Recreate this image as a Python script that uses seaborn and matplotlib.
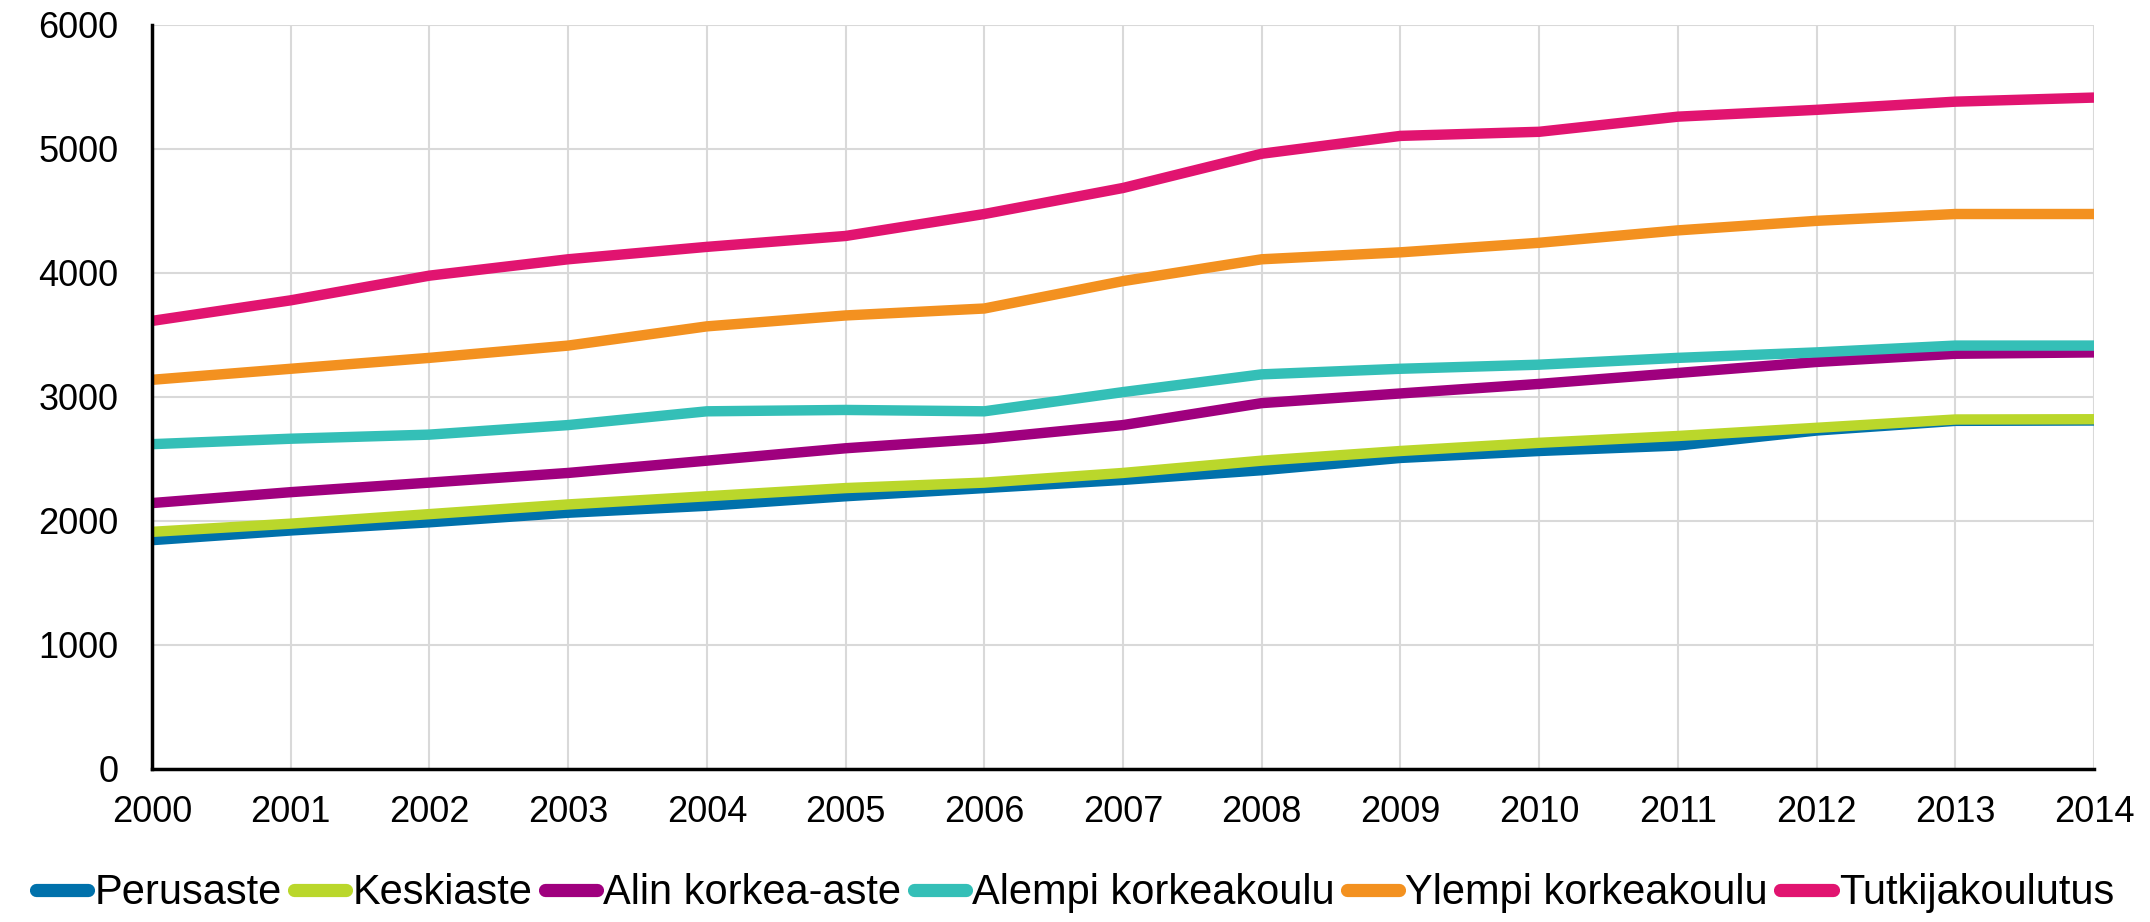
import matplotlib
matplotlib.use("Agg")
import matplotlib.pyplot as plt
import seaborn as sns
import pandas as pd

years = list(range(2000, 2015))
series_names = ["Perusaste", "Keskiaste", "Alin korkea-aste",
                "Alempi korkeakoulu", "Ylempi korkeakoulu", "Tutkijakoulutus"]
perusaste = [1845, 1923, 1989, 2066, 2122, 2199, 2265, 2331, 2409, 2508, 2564, 2608, 2729, 2807, 2810]
keskiaste = [1912, 1978, 2055, 2133, 2199, 2265, 2309, 2387, 2486, 2564, 2630, 2685, 2751, 2818, 2820]
alin = [2144, 2232, 2309, 2387, 2486, 2586, 2663, 2773, 2950, 3028, 3105, 3193, 3282, 3348, 3359]
alempi = [2619, 2663, 2696, 2773, 2884, 2895, 2884, 3039, 3182, 3227, 3260, 3315, 3359, 3414, 3414]
ylempi = [3138, 3227, 3315, 3414, 3569, 3657, 3713, 3934, 4110, 4166, 4243, 4343, 4420, 4475, 4475]
tutkija = [3613, 3779, 3978, 4110, 4210, 4298, 4475, 4685, 4961, 5105, 5138, 5260, 5315, 5381, 5414]
colors = ["#0071AB", "#BAD72B", "#9F007E", "#34BFB7", "#F39120", "#E11470"]

all_vals = [perusaste, keskiaste, alin, alempi, ylempi, tutkija]
rows = []
for name, vals in zip(series_names, all_vals):
    for y, v in zip(years, vals):
        rows.append({"year": y, "value": v, "series": name})
df = pd.DataFrame(rows)

sns.set_style("white")
plt.rcParams["font.family"] = ["Liberation Sans", "DejaVu Sans"]
plt.rcParams["text.color"] = "black"
plt.rcParams["xtick.color"] = "black"
plt.rcParams["ytick.color"] = "black"

fig = plt.figure(figsize=(21.5, 9.22), dpi=100)
ax = fig.add_axes([0.0707, 0.166, 0.974 - 0.0707, 0.973 - 0.166])

sns.lineplot(data=df, x="year", y="value", hue="series", hue_order=series_names,
             palette=colors, linewidth=7.5, ax=ax, legend=True, sort=False)
for ln in ax.lines:
    ln.set_solid_capstyle("butt")
    ln.set_solid_joinstyle("round")

ax.set_xlim(2000, 2014)
ax.set_ylim(0, 6000)
ax.set_xticks(years)
ax.set_xticklabels([str(y) for y in years])
ax.set_yticks(range(0, 6001, 1000))
ax.set_xlabel("")
ax.set_ylabel("")
ax.grid(True, color="#d9d9d9", linewidth=1.5)
ax.set_axisbelow(True)
for s in ["top", "right"]:
    ax.spines[s].set_visible(False)
for s in ["left", "bottom"]:
    ax.spines[s].set_color("black")
    ax.spines[s].set_linewidth(2.5)
    ax.spines[s].set_zorder(5)
ax.tick_params(axis="x", direction="out", length=10, width=2.5, color="black",
               labelcolor="black", labelsize=26, pad=9)
ax.tick_params(axis="y", length=0, labelsize=26, labelcolor="black", pad=24)

handles, labels = ax.get_legend_handles_labels()
ax.get_legend().remove()
for h in handles:
    h.set_linewidth(9.5)
    h.set_solid_capstyle("round")
leg = fig.legend(handles, labels, loc="center", bbox_to_anchor=(0.5, 0.031), ncol=6,
                 frameon=False, fontsize=30, handlelength=1.25, handletextpad=0.15,
                 columnspacing=0.3, borderaxespad=0, borderpad=0)
for t in leg.get_texts():
    t.set_color("black")

fig.savefig("out.png", dpi=100)
